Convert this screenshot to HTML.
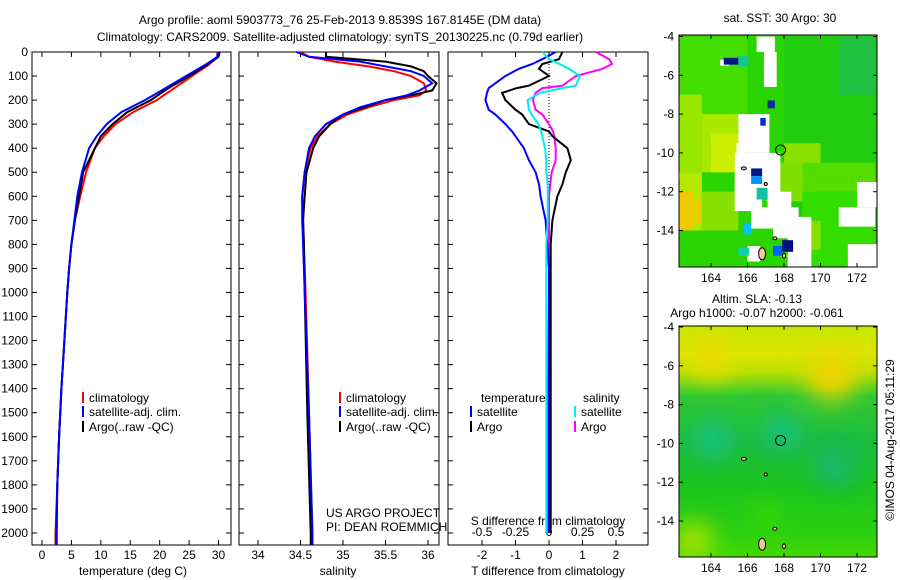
<!DOCTYPE html>
<html><head><meta charset="utf-8"><style>
body{margin:0;background:#fff}
svg{display:block;font-family:"Liberation Sans",sans-serif;font-size:12px}
</style></head><body>
<svg id="c" width="900" height="580" xmlns="http://www.w3.org/2000/svg">
<text x="340" y="24" text-anchor="middle">Argo profile: aoml 5903773_76 25-Feb-2013 9.8539S 167.8145E (DM data)</text>
<text x="340" y="41" text-anchor="middle">Climatology: CARS2009. Satellite-adjusted climatology: synTS_20130225.nc (0.79d earlier)</text>
<text x="780" y="22" text-anchor="middle">sat. SST: 30 Argo: 30</text>
<text x="757" y="303" text-anchor="middle">Altim. SLA: -0.13</text>
<text x="757" y="317" text-anchor="middle">Argo h1000: -0.07 h2000: -0.061</text>
<text transform="translate(894,440) rotate(-90)" text-anchor="middle">©IMOS 04-Aug-2017 05:11:29</text>
<defs><filter id="bl" x="-50%" y="-50%" width="200%" height="200%"><feGaussianBlur stdDeviation="12"/></filter>
<clipPath id="cp2"><rect x="679" y="326" width="198" height="231"/></clipPath>
<clipPath id="cp1"><rect x="679" y="35" width="198" height="232"/></clipPath>
<linearGradient id="slag" x1="0" y1="0" x2="0" y2="1">
<stop offset="0" stop-color="#c4e800"/><stop offset="0.12" stop-color="#dde400"/><stop offset="0.2" stop-color="#b8e200"/>
<stop offset="0.3" stop-color="#30c830"/><stop offset="0.5" stop-color="#1cbc40"/><stop offset="0.7" stop-color="#1cc41c"/><stop offset="0.9" stop-color="#2ad010"/><stop offset="1" stop-color="#44d800"/></linearGradient>
</defs>
<g id="g"></g>
</svg>
<script>
// ---- data ----
const depthTicks=[0,100,200,300,400,500,600,700,800,900,1000,1100,1200,1300,1400,1500,1600,1700,1800,1900,2000];
const tempTicks=[0,5,10,15,20,25,30];
const salTicks=[34,34.5,35,35.5,36];
const tdTicks=[-2,-1,0,1,2];
const sdTicks=[-0.5,-0.25,0,0.25,0.5];
const tempDepth=[0,20,50,100,150,200,250,300,350,400,500,600,700,800,900,1000,1200,1400,1600,1800,2000,2050];
const tempClim=[29.8,29.8,28.5,25.5,22.5,19.5,15.5,12.5,10.5,9,7.5,6.5,5.6,5,4.6,4.3,3.8,3.3,2.9,2.6,2.3,2.3];
const tempSat=[30,29.8,28,24.5,21,17.5,13.5,11,9.3,8,6.8,6,5.5,5,4.6,4.3,3.8,3.3,2.9,2.6,2.4,2.4];
const tempArgo=[30.2,30,28.3,25,21.5,18.5,14.5,12,10,9,7,6.3,5.6,5,4.6,4.3,3.8,3.3,2.9,2.6,2.5,2.5];
const salDepth=[0,20,40,60,80,100,130,160,180,200,230,260,300,350,400,500,600,700,800,1000,1500,2000,2050];
const salClim=[34.5,34.6,34.9,35.3,35.6,35.8,35.95,35.98,35.9,35.6,35.3,35.05,34.85,34.7,34.62,34.55,34.52,34.53,34.54,34.56,34.6,34.64,34.64];
const salSat=[34.45,34.6,35.2,35.5,35.8,35.95,36.05,35.9,35.75,35.5,35.2,35.0,34.8,34.67,34.6,34.55,34.52,34.52,34.53,34.55,34.6,34.64,34.64];
const salArgo=[34.8,34.8,35.5,35.8,35.95,36.0,36.1,36.05,35.8,35.5,35.25,35.0,34.85,34.72,34.65,34.57,34.55,34.53,34.54,34.55,34.58,34.62,34.62];
const difDepth=[0,30,50,70,100,140,150,170,200,240,260,300,330,350,400,450,500,550,600,700,800,900,1000,1500,2000];
const dtSat=[0.2,-0.2,-0.5,-0.9,-1.3,-1.7,-1.8,-1.85,-1.9,-1.8,-1.6,-1.3,-1.1,-1.0,-0.75,-0.6,-0.4,-0.3,-0.25,-0.1,-0.05,0,0,0,0];
const dtArgo=[0.4,0.3,-0.2,-0.3,0,-0.6,-0.96,-1.4,-1.3,-1.0,-0.8,-0.6,0,0.1,0.55,0.65,0.5,0.4,0.25,0.1,0.05,0.05,0.05,0.05,0.05];
const dsSat=[-0.05,0.0,0.08,0.15,0.23,0.2,0.1,-0.07,-0.16,-0.15,-0.13,-0.08,-0.06,-0.05,-0.03,-0.02,-0.02,-0.01,-0.01,-0.01,-0.02,-0.02,-0.02,-0.02,-0.02];
const dsArgo=[0.35,0.45,0.47,0.4,0.2,0.1,-0.05,-0.1,-0.12,-0.1,-0.05,0,0.03,0.04,0.05,0.05,0.02,0.01,0,0,0,0,0,-0.01,-0.01];
// ---- helpers ----
const NS="http://www.w3.org/2000/svg",G=document.getElementById('g');
function mk(t,a,p){const e=document.createElementNS(NS,t);for(const k in a)e.setAttribute(k,a[k]);(p||G).appendChild(e);return e;}
const Y0=52,Y1=545,D1=2050;
const yD=d=>Y0+d/D1*(Y1-Y0);
function lin(d0,d1,p0,p1){return v=>p0+(v-d0)/(d1-d0)*(p1-p0);}
const P=[{x0:32,x1:231,f:lin(0,30,42,218.5)},{x0:239,x1:439,f:lin(34,36,258,428)},{x0:448,x1:648,f:lin(-2,2,482,616)}];
const sX=lin(-0.5,0.5,482,616);
function line(xs,ds,fx,col,w,name){
  const pts=xs.map((v,i)=>fx(v).toFixed(1)+','+yD(ds[i]).toFixed(1)).join(' ');
  const e=mk('polyline',{points:pts,fill:'none',stroke:col,'stroke-width':w});
  
  
}
function txt(x,y,s,anc,name){const e=mk('text',{x:x,y:y,'text-anchor':anc||'start'});e.textContent=s;
  return e;}
// frames & ticks
P.forEach((p,i)=>{
  const r=mk('rect',{x:p.x0,y:Y0,width:p.x1-p.x0,height:Y1-Y0,fill:'none',stroke:'#000'});
  
  
  depthTicks.forEach(d=>{const y=yD(d);
    mk('line',{x1:p.x0,x2:p.x0+5,y1:y,y2:y,stroke:'#000'});mk('line',{x1:p.x1,x2:p.x1-5,y1:y,y2:y,stroke:'#000'});
    if(i==0)txt(28,y+4,String(d),'end','y-tick-label');});
});
function xt(p,ticks,fx,fmt){ticks.forEach(v=>{const x=fx(v);
  mk('line',{x1:x,x2:x,y1:Y0,y2:Y0+5,stroke:'#000'});mk('line',{x1:x,x2:x,y1:Y1,y2:Y1-5,stroke:'#000'});
  txt(x,Y1+14,fmt(v),'middle','x-tick-label');});}
xt(P[0],tempTicks,P[0].f,v=>String(v));
xt(P[1],salTicks,P[1].f,v=>String(v));
xt(P[2],tdTicks,P[2].f,v=>String(v));
sdTicks.forEach(v=>txt(sX(v),Y1-9,String(v),'middle','s-diff-tick-label'));
txt(548,Y1-20,'S difference from climatology','middle','s-diff-axis-title');
txt(133,575,'temperature (deg C)','middle','x-axis-title-temperature');
txt(338,575,'salinity','middle','x-axis-title-salinity');
txt(548,575,'T difference from climatology','middle','x-axis-title-t-diff');
txt(326,517,'US ARGO PROJECT','start','project-label');
txt(326,531,'PI: DEAN ROEMMICH','start','pi-label');
const zl=mk('line',{x1:549,x2:549,y1:Y0,y2:200,stroke:'#000','stroke-dasharray':'1,2'});

// series
line(tempClim,tempDepth,P[0].f,'#f00',2,'temp-climatology-line');
line(tempArgo,tempDepth,P[0].f,'#000',2,'temp-argo-line');
line(tempSat,tempDepth,P[0].f,'#00f',2,'temp-satellite-line');
line(salClim,salDepth,P[1].f,'#f00',2,'sal-climatology-line');
line(salArgo,salDepth,P[1].f,'#000',2,'sal-argo-line');
line(salSat,salDepth,P[1].f,'#00f',2,'sal-satellite-line');
line(dsArgo,difDepth,sX,'#f0f',2,'s-diff-argo-line');
line(dtArgo,difDepth,P[2].f,'#000',2,'t-diff-argo-line');
line(dtSat,difDepth,P[2].f,'#00f',2,'t-diff-satellite-line');
line(dsSat,difDepth,sX,'#0ee',2,'s-diff-satellite-line');
// legends
function leg(x,y,col,label,name){const l=mk('line',{x1:x,x2:x,y1:y-10,y2:y+1,stroke:col,'stroke-width':2});
  
  txt(x+6,y,label,'start',name);}
[[83],[340]].forEach(([x])=>{leg(x,402,'#f00','climatology','legend-climatology');
  leg(x,416,'#00f','satellite-adj. clim.','legend-satellite');leg(x,431,'#000','Argo(..raw -QC)','legend-argo');});
txt(481,402,'temperature','start','legend-temperature-heading');
txt(583,402,'salinity','start','legend-salinity-heading');
leg(471,416,'#00f','satellite','legend-t-satellite');leg(471,431,'#000','Argo','legend-t-argo');
leg(575,416,'#0ee','satellite','legend-s-satellite');leg(575,431,'#f0f','Argo','legend-s-argo');
// ---- maps ----
const lonX=lin(164,172,711,857);
const latY1=lin(-4,-14,36.5,230.5), latY2=lin(-4,-14,327,521);
function mapAxes(latY,yt,yb,name){
  const r=mk('rect',{x:679,y:yt,width:198,height:yb-yt,fill:'none',stroke:'#000'});
  
  [164,166,168,170,172].forEach(v=>{const x=lonX(v);mk('line',{x1:x,x2:x,y1:yt,y2:yt+4,stroke:'#000'});mk('line',{x1:x,x2:x,y1:yb,y2:yb-4,stroke:'#000'});
    txt(x,yb+15,String(v),'middle','map-lon-label');});
  [-4,-6,-8,-10,-12,-14].forEach(v=>{const y=latY(v);mk('line',{x1:679,x2:683,y1:y,y2:y,stroke:'#000'});mk('line',{x1:877,x2:873,y1:y,y2:y,stroke:'#000'});
    txt(674,y+4,String(v),'end','map-lat-label');});
  const c=mk('circle',{cx:lonX(167.81),cy:latY(-9.85),r:5,fill:'none',stroke:'#000'});
  
  [[166.8,-15.2,7,12],[167.5,-14.4,4,3],[165.8,-10.8,5,3],[167.0,-11.6,3,3],[168.0,-15.3,3,5]].forEach(([lo,la,w,h])=>{
    const e=mk('ellipse',{cx:lonX(lo),cy:latY(la),rx:w/2,ry:h/2,fill:'#f5c49a',stroke:'#000'});
    });
}
// SST map
const g1=mk('g',{'clip-path':'url(#cp1)'});
mk('rect',{x:679,y:35,width:198,height:232,fill:'#2ad400'},g1);
const sstRects=[[162,-4,4,-7,'#44dd00'],[162,-7,1.5,-4,'#99e600'],[163.5,-8,2,-3,'#aae800'],[164,-9,1.5,-2,'#ccee00'],[162,-11,1.5,-3,'#b5e800'],
[162,-12,1,-2,'#f0c800'],[162.8,-12.4,0.8,-1.2,'#e8d000'],[163.5,-12,2,-2,'#88e000'],[168,-4,5.5,-11,'#22cc10'],[171,-4,2,-3,'#20c040'],
[168,-9.5,2,-1.3,'#8ae000'],[167,-10.5,2.5,-2,'#7fe000'],[169,-10.5,4,-1.5,'#55dd00'],[169,-12,4,-3.8,'#33dd00'],[169,-13.5,1,-1.5,'#88e000'],
[166.5,-4,1,-0.8,'#fff'],[166.9,-4.8,0.7,-1.8,'#fff'],[164.5,-5.2,0.5,-0.3,'#fff'],
[165.5,-8,1.7,-2,'#fff'],[165.4,-9.5,0.5,-1.2,'#fff'],[165.3,-10,2.5,-2,'#fff'],[165.3,-11.8,1.5,-1.2,'#fff'],
[167.1,-12,1.3,-1,'#fff'],[166.2,-12.8,2.6,-1.1,'#fff'],[167.4,-13.6,1.6,-0.8,'#fff'],[168.2,-13.3,1.3,-2.6,'#fff'],[166,-14.8,0.7,-0.8,'#fff'],
[171,-12.8,2,-1,'#fff'],[172,-11.5,1.5,-1.3,'#fff'],[171.5,-14.7,2,-1.2,'#fff'],[162,-11,0.3,-0.4,'#fff'],
[164.7,-5.1,0.8,-0.35,'#001a80'],[165.5,-5,0.55,-0.55,'#10c890'],[167.1,-7.3,0.4,-0.4,'#0a2aa0'],[166.7,-8.2,0.3,-0.4,'#0033cc'],
[166.2,-10.8,0.6,-0.4,'#00188a'],[166.2,-11.2,0.6,-0.4,'#0090ff'],[166.5,-11.8,0.6,-0.6,'#10c0a0'],[165.8,-13.6,0.4,-0.6,'#00c0ff'],
[167.9,-14.5,0.6,-0.6,'#000f80'],[167.4,-14.8,0.5,-0.5,'#0060ff'],[165.5,-14.9,0.6,-0.4,'#10d0b0']];
sstRects.forEach(([lo,la,w,h,c])=>{const x=lonX(lo),y=latY1(la);
  const e=mk('rect',{x:x,y:y,width:lonX(lo+w)-x,height:latY1(la+h)-y,fill:c},g1);
  });
mapAxes(latY1,35,267,'sst-map-frame');
// SLA map
const g2=mk('g',{'clip-path':'url(#cp2)'});
mk('rect',{x:679,y:326,width:198,height:231,fill:'url(#slag)'},g2);
const g2b=mk('g',{filter:'url(#bl)'},g2);
[[164,-5.6,18,22,'#ecdc00'],[170.6,-6.5,26,24,'#f0d400'],[164.1,-9.8,16,20,'#14c08c'],[167.9,-9.4,16,18,'#14c08c'],[170.8,-11.2,22,20,'#18b870'],[163,-15,20,18,'#b0e400'],[167,-13.8,10,18,'#40dc00']].forEach(([lo,la,rx,ry,c])=>{
  mk('ellipse',{cx:lonX(lo),cy:latY2(la),rx:rx,ry:ry,fill:c},g2b);});
mapAxes(latY2,326,557,'sla-map-frame');
</script>
</body></html>
